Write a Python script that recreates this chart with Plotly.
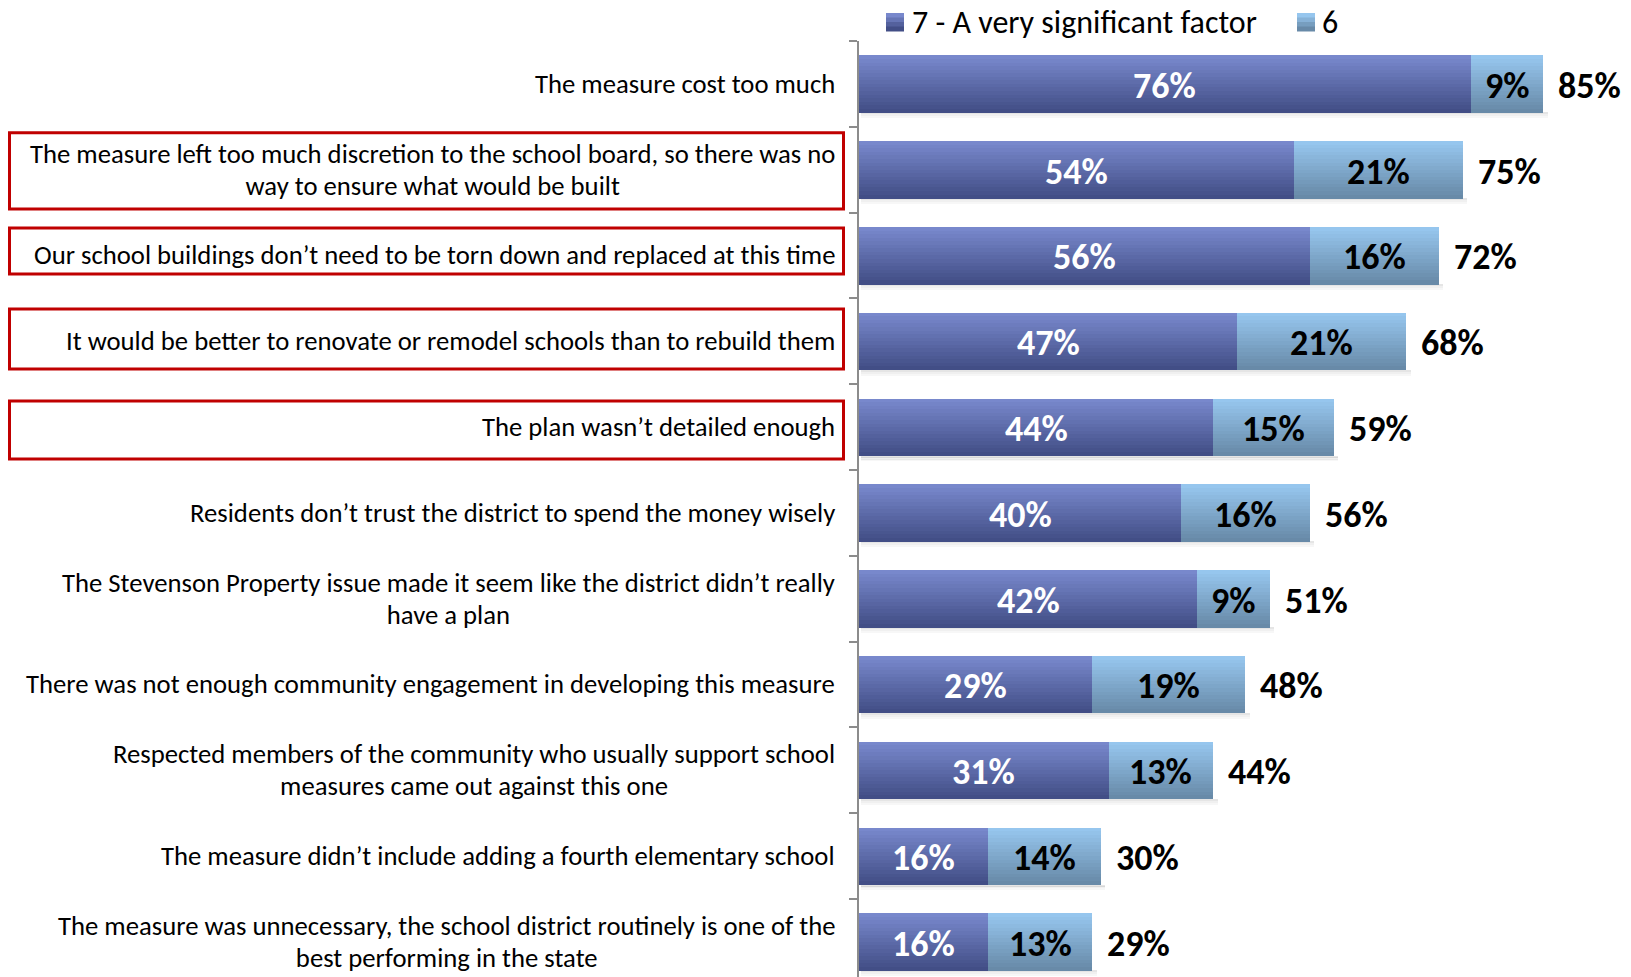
import plotly.graph_objects as go

# ---------------- data ----------------
categories = [
    "The measure cost too much",
    "The measure left too much discretion to the school board, so there was no<br>way to ensure what would be built",
    "Our school buildings don’t need to be torn down and replaced at this time",
    "It would be better to renovate or remodel schools than to rebuild them",
    "The plan wasn’t detailed enough",
    "Residents don’t trust the district to spend the money wisely",
    "The Stevenson Property issue made it seem like the district didn’t really<br>have a plan",
    "There was not enough community engagement in developing this measure",
    "Respected members of the community who usually support school<br>measures came out against this one",
    "The measure didn’t include adding a fourth elementary school",
    "The measure was unnecessary, the school district routinely is one of the<br>best performing in the state",
]
very_significant = [76, 54, 56, 47, 44, 40, 42, 29, 31, 16, 16]   # "7 - A very significant factor"
six = [9, 21, 16, 21, 15, 16, 9, 19, 13, 14, 13]                    # "6"
totals = [85, 75, 72, 68, 59, 56, 51, 48, 44, 30, 29]
series_names = ["7 - A very significant factor", "6"]
highlighted = [1, 2, 3, 4]

# ---------------- layout constants ----------------
W, H = 1631, 977
ML, MT = 859, 41
PW, PH = W - ML, H - MT
XMAX = 95.9
FONT = "Carlito, Calibri, Lato, sans-serif"
LABEL_SIZE = 26.7

def px_to_paper_x(px):
    return (px - ML) / PW

def px_to_paper_y(py):
    return (H - py) / PH

def lerp(c1, c2, t):
    return "rgb(%d,%d,%d)" % tuple(round(a + (b - a) * t) for a, b in zip(c1, c2))

dark_top, dark_bot = (120, 136, 204), (66, 78, 134)
light_top, light_bot = (150, 198, 238), (104, 138, 168)

ypos = list(range(len(categories)))
half = 0.332
NB = 16
band = 2 * half / NB

fig = go.Figure()

# soft shadow below the bars
for k, a in enumerate([0.10, 0.06, 0.03]):
    fig.add_trace(go.Bar(
        y=ypos, x=[t + 0.25 for t in totals], base=[0.3] * len(totals), orientation="h",
        offset=half + k * 0.022, width=0.024,
        marker=dict(color="rgba(0,0,0,%.2f)" % a, line=dict(width=0)),
        showlegend=False, hoverinfo="skip"))

# gradient bars built from thin bands
for k in range(NB):
    t = k / (NB - 1)
    off = -half + k * band
    fig.add_trace(go.Bar(
        y=ypos, x=very_significant, base=[0] * len(ypos), orientation="h",
        offset=off, width=band * 1.15,
        marker=dict(color=lerp(dark_top, dark_bot, t), line=dict(width=0)),
        showlegend=False, hoverinfo="skip"))
    fig.add_trace(go.Bar(
        y=ypos, x=six, base=very_significant, orientation="h",
        offset=off, width=band * 1.15,
        marker=dict(color=lerp(light_top, light_bot, t), line=dict(width=0)),
        showlegend=False, hoverinfo="skip"))

VAL_SIZE = 36
annotations = []
# value labels inside bars
for i, (a, b) in enumerate(zip(very_significant, six)):
    annotations.append(dict(
        x=a / 2, y=i, xref="x", yref="y", text="%d%%" % a, showarrow=False,
        xanchor="center", yanchor="middle", yshift=-2,
        font=dict(family=FONT, size=VAL_SIZE, color="white", weight="bold")))
    annotations.append(dict(
        x=a + b / 2, y=i, xref="x", yref="y", text="%d%%" % b, showarrow=False,
        xanchor="center", yanchor="middle", yshift=-2,
        font=dict(family=FONT, size=VAL_SIZE, color="black", weight="bold")))
# totals
for i, t in enumerate(totals):
    annotations.append(dict(
        x=t, y=i, xref="x", yref="y", text="%d%%" % t, showarrow=False,
        xanchor="left", yanchor="middle", xshift=13, yshift=-2,
        font=dict(family=FONT, size=VAL_SIZE, color="black", weight="bold")))

# category labels (two-line labels drawn as two overlaid copies so the
# line spacing can be tightened while keeping the centred second line)
HIDE = '<span style="color:rgba(0,0,0,0)">%s</span>'
for i, c in enumerate(categories):
    base = dict(x=px_to_paper_x(837), y=i, xref="paper", yref="y", showarrow=False,
                xanchor="right", yanchor="middle", align="center",
                font=dict(family=FONT, size=LABEL_SIZE, color="black"))
    if "<br>" in c:
        l1, l2 = c.split("<br>")
        annotations.append(dict(base, text=l1 + "<br>" + HIDE % l2, yshift=-1.6))
        annotations.append(dict(base, text=HIDE % l1 + "<br>" + l2, yshift=1.6))
    else:
        annotations.append(dict(base, text=c))

# legend (manual)
legend_items = [(886, 913, series_names[0], dark_top, dark_bot),
                (1297, 1323, series_names[1], light_top, light_bot)]
shapes = []
for sx, tx, name, ctop, cbot in legend_items:
    n = 4
    for k in range(n):
        y0 = 13 + k * 18 / n
        shapes.append(dict(
            type="rect", xref="paper", yref="paper",
            x0=px_to_paper_x(sx), x1=px_to_paper_x(sx + 18),
            y0=px_to_paper_y(y0), y1=px_to_paper_y(y0 + 18 / n + 0.5),
            fillcolor=lerp(ctop, cbot, k / (n - 1)), line=dict(width=0), layer="above"))
    annotations.append(dict(
        x=px_to_paper_x(tx - 3), y=px_to_paper_y(22), xref="paper", yref="paper",
        text=name, showarrow=False, xanchor="left", yanchor="middle",
        font=dict(family=FONT, size=32, color="black")))

# red highlight boxes
box_ext = {1: (-0.431, 0.458), 2: (-0.321, 0.216), 3: (-0.376, 0.323), 4: (-0.304, 0.372)}
for i in highlighted:
    lo, hi = box_ext[i]
    shapes.append(dict(
        type="rect", xref="paper", yref="y",
        x0=px_to_paper_x(9.5), x1=px_to_paper_x(843.5),
        y0=i + lo, y1=i + hi,
        line=dict(color="#C00000", width=3), fillcolor="rgba(0,0,0,0)"))

fig.update_layout(
    width=W, height=H,
    margin=dict(l=ML, r=0, t=MT, b=0, pad=0),
    paper_bgcolor="white", plot_bgcolor="white",
    barmode="overlay", bargap=0,
    showlegend=False,
    xaxis=dict(range=[0, XMAX], visible=False, fixedrange=True),
    yaxis=dict(range=[10.41, -0.5], showgrid=False, zeroline=False,
               showline=True, linecolor="#8c8c8c", linewidth=2,
               tickmode="array", tickvals=[i - 0.5 for i in range(len(categories) + 1)],
               ticks="outside", ticklen=8, tickwidth=2, tickcolor="#8c8c8c",
               showticklabels=False, fixedrange=True),
    annotations=annotations,
    shapes=shapes,
)

fig.write_html("out.html")
